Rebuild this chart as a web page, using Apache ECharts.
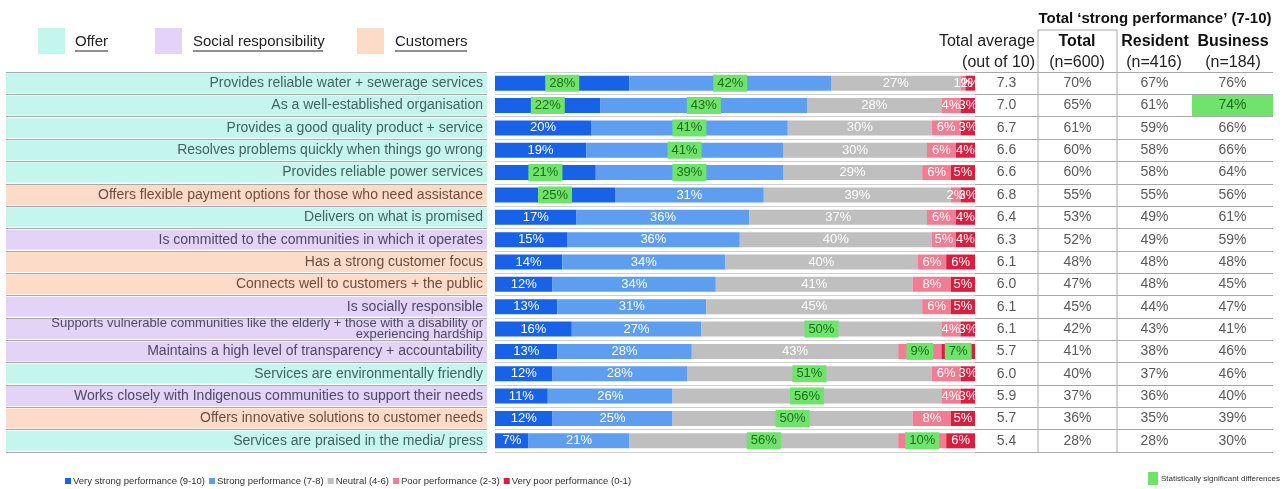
<!DOCTYPE html>
<html>
<head>
<meta charset="utf-8">
<script src="https://cdn.jsdelivr.net/npm/echarts@6/dist/echarts.min.js"></script>
<style>
  html, body { margin: 0; padding: 0; background: #fff; }
  #chart { width: 1285px; height: 489px; }
</style>
</head>
<body>
<div id="chart"></div>
<script>
// statements, top to bottom
var categories = [
  'Provides reliable water + sewerage services',
  'As a well-established organisation',
  'Provides a good quality product + service',
  'Resolves problems quickly when things go wrong',
  'Provides reliable power services',
  'Offers flexible payment options for those who need assistance',
  'Delivers on what is promised',
  'Is committed to the communities in which it operates',
  'Has a strong customer focus',
  'Connects well to customers + the public',
  'Is socially responsible',
  'Supports vulnerable communities like the elderly + those with a disability or\nexperiencing hardship',
  'Maintains a high level of transparency + accountability',
  'Services are environmentally friendly',
  'Works closely with Indigenous communities to support their needs',
  'Offers innovative solutions to customer needs',
  'Services are praised in the media/ press'
];
var groups = ['Offer', 'Offer', 'Offer', 'Offer', 'Offer', 'Customers', 'Offer', 'Social', 'Customers',
  'Customers', 'Social', 'Social', 'Social', 'Offer', 'Social', 'Customers', 'Offer'];

var veryStrong = [28, 22, 20, 19, 21, 25, 17, 15, 14, 12, 13, 16, 13, 12, 11, 12, 7];
var strong     = [42, 43, 41, 41, 39, 31, 36, 36, 34, 34, 31, 27, 28, 28, 26, 25, 21];
var neutral    = [27, 28, 30, 30, 29, 39, 37, 40, 40, 41, 45, 50, 43, 51, 56, 50, 56];
var poor       = [1, 4, 6, 6, 6, 2, 6, 5, 6, 8, 6, 4, 9, 6, 4, 8, 10];
var veryPoor   = [2, 3, 3, 4, 5, 3, 4, 4, 6, 5, 5, 3, 7, 3, 3, 5, 6];

// rows (0-based) flagged as statistically significant
var sigVeryStrong = [0, 1, 4, 5];
var sigStrong = [0, 1, 2, 3, 4];
var sigNeutral = [11, 13, 14, 15, 16];
var sigPoor = [12, 16];
var sigVeryPoor = [12];
var sigBusiness = [1];

var avgScore = [7.3, 7.0, 6.7, 6.6, 6.6, 6.8, 6.4, 6.3, 6.1, 6.0, 6.1, 6.1, 5.7, 6.0, 5.9, 5.7, 5.4];
var totalStrong = [70, 65, 61, 60, 60, 55, 53, 52, 48, 47, 45, 42, 41, 40, 37, 36, 28];
var residentStrong = [67, 61, 59, 58, 58, 55, 49, 49, 48, 48, 44, 43, 38, 37, 36, 35, 28];
var businessStrong = [76, 74, 66, 66, 64, 56, 61, 59, 48, 45, 47, 41, 46, 46, 40, 39, 30];

var seriesNames = ['Very strong performance (9-10)', 'Strong performance (7-8)', 'Neutral (4-6)',
  'Poor performance (2-3)', 'Very poor performance (0-1)'];
var seriesColors = ['#1762e6', '#5e9ef1', '#bfbfbf', '#f07d91', '#d81f40'];

var bandColor = { Offer: '#c4f6ee', Social: '#e3d3f6', Customers: '#fcdcc8' };
var bandText = { Offer: '#45625f', Social: '#4d4868', Customers: '#6d4d40' };
var green = '#6fe36b';
var font = 'Arial, "Liberation Sans", sans-serif';

var chart = echarts.init(document.getElementById('chart'), null, { renderer: 'canvas' });

var gTop = 72, gBottom = 37;
var gridList = [
  { left: 495, width: 480, top: gTop, bottom: gBottom },   // stacked bars
  { left: 6, width: 481, top: gTop, bottom: gBottom },     // statement bands
  { left: 975, width: 63, top: gTop, bottom: gBottom },    // total average
  { left: 1038, width: 79, top: gTop, bottom: gBottom },   // total
  { left: 1117, width: 75, top: gTop, bottom: gBottom },   // resident
  { left: 1192, width: 81, top: gTop, bottom: gBottom }    // business
];

var xAxes = gridList.map(function (g, i) {
  return { gridIndex: i, type: 'value', min: 0, max: i === 0 ? 100 : 1, show: false };
});
var yAxes = gridList.map(function (g, i) {
  return {
    gridIndex: i, type: 'category', data: categories, inverse: true,
    axisLine: { show: false }, axisTick: { show: false }, axisLabel: { show: false },
    splitLine: { show: true, interval: 0, lineStyle: { color: i === 0 ? '#cfcfcf' : '#a8a8a8', width: 1 } }
  };
});

function stackSeries(k, values, sig) {
  return {
    name: seriesNames[k], type: 'bar', stack: 'total', barWidth: 15,
    xAxisIndex: 0, yAxisIndex: 0,
    itemStyle: { color: seriesColors[k] },
    label: { show: true, position: 'inside', color: '#fff', fontSize: 13, fontFamily: font, formatter: '{c}%' },
    data: values.map(function (v, i) {
      if (sig.indexOf(i) >= 0) {
        return { value: v, label: { backgroundColor: green, color: '#1f6b1f', padding: [2, 4] } };
      }
      return v;
    })
  };
}

function tableSeries(c, values, fmt, sig) {
  return {
    type: 'bar', xAxisIndex: 2 + c, yAxisIndex: 2 + c, barWidth: 21, silent: true,
    data: values.map(function (v, i) {
      var hit = sig.indexOf(i) >= 0;
      return {
        value: 1,
        itemStyle: { color: hit ? green : 'rgba(0,0,0,0)' },
        label: { color: hit ? '#1f6b1f' : '#5a5a5a' }
      };
    }),
    label: {
      show: true, position: 'inside', fontSize: 14, fontFamily: font,
      formatter: function (p) { return fmt(values[p.dataIndex]); }
    }
  };
}
function pct(v) { return v + '%'; }

var series = [
  {
    type: 'bar', xAxisIndex: 1, yAxisIndex: 1, barWidth: 20, silent: true,
    data: groups.map(function (g, i) {
      var lab = { color: bandText[g] };
      if (categories[i].indexOf('\n') >= 0) { lab.fontSize = 13; lab.lineHeight = 11; }
      return { value: 1, itemStyle: { color: bandColor[g] }, label: lab };
    }),
    label: {
      show: true, position: 'insideRight', distance: 4, fontSize: 14, fontFamily: font,
      formatter: function (p) { return categories[p.dataIndex]; }
    }
  },
  stackSeries(0, veryStrong, sigVeryStrong),
  stackSeries(1, strong, sigStrong),
  stackSeries(2, neutral, sigNeutral),
  stackSeries(3, poor, sigPoor),
  stackSeries(4, veryPoor, sigVeryPoor),
  tableSeries(0, avgScore, function (v) { return v.toFixed(1); }, []),
  tableSeries(1, totalStrong, pct, []),
  tableSeries(2, residentStrong, pct, []),
  tableSeries(3, businessStrong, pct, sigBusiness)
];

var lineStyle = { stroke: '#a8a8a8', lineWidth: 1 };
var headStyle = { fill: '#222', font: '16px ' + font };
var headBold = { fill: '#111', font: 'bold 16px ' + font };

var graphic = [
  // top key
  { type: 'rect', shape: { x: 38, y: 28, width: 27, height: 26 }, style: { fill: bandColor.Offer } },
  { type: 'text', x: 75, y: 42, style: { text: 'Offer', fill: '#222', font: '15px ' + font, verticalAlign: 'middle' } },
  { type: 'line', shape: { x1: 75, y1: 51, x2: 108, y2: 51 }, style: { stroke: '#222', lineWidth: 1 } },
  { type: 'rect', shape: { x: 155, y: 28, width: 27, height: 26 }, style: { fill: bandColor.Social } },
  { type: 'text', x: 193, y: 42, style: { text: 'Social responsibility', fill: '#222', font: '15px ' + font, verticalAlign: 'middle' } },
  { type: 'line', shape: { x1: 193, y1: 51, x2: 323, y2: 51 }, style: { stroke: '#222', lineWidth: 1 } },
  { type: 'rect', shape: { x: 357, y: 28, width: 27, height: 26 }, style: { fill: bandColor.Customers } },
  { type: 'text', x: 395, y: 42, style: { text: 'Customers', fill: '#222', font: '15px ' + font, verticalAlign: 'middle' } },
  { type: 'line', shape: { x1: 395, y1: 51, x2: 467, y2: 51 }, style: { stroke: '#222', lineWidth: 1 } },

  // table headers
  { type: 'text', x: 1155, y: 19, style: { text: 'Total \u2018strong performance\u2019 (7-10)', fill: '#111', font: 'bold 15px ' + font, align: 'center', verticalAlign: 'middle' } },
  { type: 'text', x: 1035, y: 42, style: Object.assign({ text: 'Total average', align: 'right', verticalAlign: 'middle' }, headStyle) },
  { type: 'text', x: 1035, y: 63, style: Object.assign({ text: '(out of 10)', align: 'right', verticalAlign: 'middle' }, headStyle) },
  { type: 'text', x: 1077, y: 42, style: Object.assign({ text: 'Total', align: 'center', verticalAlign: 'middle' }, headBold) },
  { type: 'text', x: 1077, y: 63, style: Object.assign({ text: '(n=600)', align: 'center', verticalAlign: 'middle' }, headStyle) },
  { type: 'text', x: 1155, y: 42, style: Object.assign({ text: 'Resident', align: 'center', verticalAlign: 'middle' }, headBold) },
  { type: 'text', x: 1154, y: 63, style: Object.assign({ text: '(n=416)', align: 'center', verticalAlign: 'middle' }, headStyle) },
  { type: 'text', x: 1233, y: 42, style: Object.assign({ text: 'Business', align: 'center', verticalAlign: 'middle' }, headBold) },
  { type: 'text', x: 1233, y: 63, style: Object.assign({ text: '(n=184)', align: 'center', verticalAlign: 'middle' }, headStyle) },

  // total column frame
  { type: 'line', shape: { x1: 1038, y1: 30, x2: 1117, y2: 30 }, style: lineStyle },
  { type: 'line', shape: { x1: 1038, y1: 30, x2: 1038, y2: 452 }, style: lineStyle },
  { type: 'line', shape: { x1: 1117, y1: 30, x2: 1117, y2: 452 }, style: lineStyle },

  // significance key
  { type: 'rect', shape: { x: 1148, y: 472, width: 10, height: 13 }, style: { fill: green } },
  { type: 'text', x: 1161, y: 479, style: { text: 'Statistically significant differences', fill: '#333', font: '8px ' + font, verticalAlign: 'middle' } }
];

chart.setOption({
  animation: false,
  backgroundColor: '#fff',
  grid: gridList,
  xAxis: xAxes,
  yAxis: yAxes,
  legend: {
    data: seriesNames, left: 60, top: 471, icon: 'rect', itemWidth: 6, itemHeight: 6, itemGap: 4,
    textStyle: { fontSize: 9.5, color: '#333', fontFamily: font, padding: [0, 0, 0, -3] }, selectedMode: false
  },
  graphic: graphic,
  series: series
});
</script>
</body>
</html>
